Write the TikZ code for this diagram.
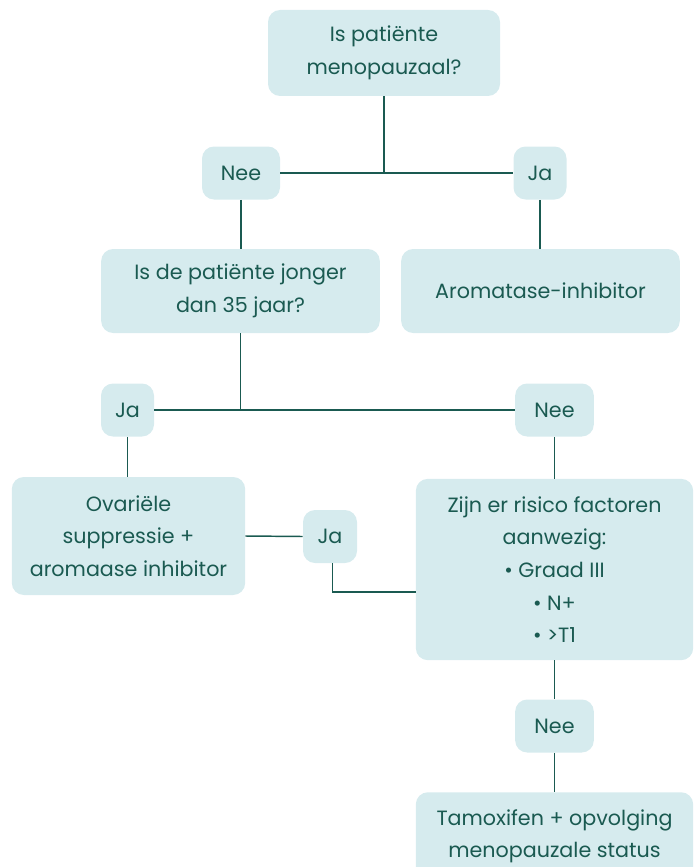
\documentclass[tikz,border=0pt]{standalone}
\usepackage{fontspec}
\setmainfont{Poppins}
\usetikzlibrary{positioning,calc}
\definecolor{ink}{HTML}{1A5A51}
\definecolor{pale}{HTML}{D6EBEE}

\begin{document}
\begin{tikzpicture}[
    x=0.75pt, y=-0.75pt,
    box/.style={rectangle, fill=pale, rounded corners=9pt, text=ink,
                align=center, inner sep=0pt, font=\fontsize{15.5}{24.5}\selectfont},
    tag/.style={rectangle, fill=pale, rounded corners=9pt, text=ink,
                minimum height=39.75pt, inner sep=0pt, font=\fontsize{15.5}{24.5}\selectfont},
    link/.style={draw=ink, line width=1.1pt}
]
    \useasboundingbox (0,0) rectangle (693,867);

    \node[box, minimum width=174pt, minimum height=64.5pt] (meno) at (384,53) {Is patiënte\\menopauzaal?};
    \node[tag, minimum width=58.5pt] (nee1) at (241,173) {Nee};
    \node[tag, minimum width=39.75pt] (ja1) at (540,173) {Ja};

    \node[box, minimum width=209pt, minimum height=63pt] (jong) at (240.5,291) {Is de patiënte jonger\\dan 35 jaar?};
    \node[box, minimum width=209pt, minimum height=63pt] (arom) at (540.5,291) {Aromatase-inhibitor};

    \node[tag, minimum width=39.75pt] (ja2) at (127.5,410) {Ja};
    \node[tag, minimum width=59pt] (nee2) at (554.5,410) {Nee};

    \node[box, minimum width=175pt, minimum height=88.5pt] (ovar) at (128.5,536) {Ovariële\\suppressie +\\aromaase inhibitor};
    \node[tag, minimum width=40.5pt] (ja3) at (330,536.5) {Ja};
    \node[box, minimum width=208pt, minimum height=136pt] (risk) at (554.5,569.5)
        {Zijn er risico factoren\\aanwezig:\\• Graad III\\• N+\\• >T1};

    \node[tag, minimum width=59pt] (nee3) at (554.5,726) {Nee};
    \node[box, minimum width=208pt, minimum height=66pt, anchor=north] (tamo) at (554.5,792)
        {Tamoxifen + opvolging\\menopauzale status};

    % splitsingen
    \draw[link] (meno.south) -- (meno.south |- nee1.east);
    \draw[link] (nee1.east) -- (ja1.west);
    \draw[link] (nee1.south) -- (jong.north -| nee1.south);
    \draw[link] (ja1.south) -- (arom.north -| ja1.south);

    \draw[link] (jong.south) -- (jong.south |- ja2.east);
    \draw[link] (ja2.east) -- (nee2.west);
    \draw[link] (ja2.south) -- (ovar.north -| ja2.south);
    \draw[link] (nee2.south) -- (risk.north -| nee2.south);

    \draw[link] (ovar.east) -- (ja3.west);
    \draw[link] ([xshift=2pt]ja3.south) |- ([yshift=-17pt]risk.west);
    \draw[link] (risk.south) -- (nee3.north);
    \draw[link] (nee3.south) -- (tamo.north);
\end{tikzpicture}
\end{document}
